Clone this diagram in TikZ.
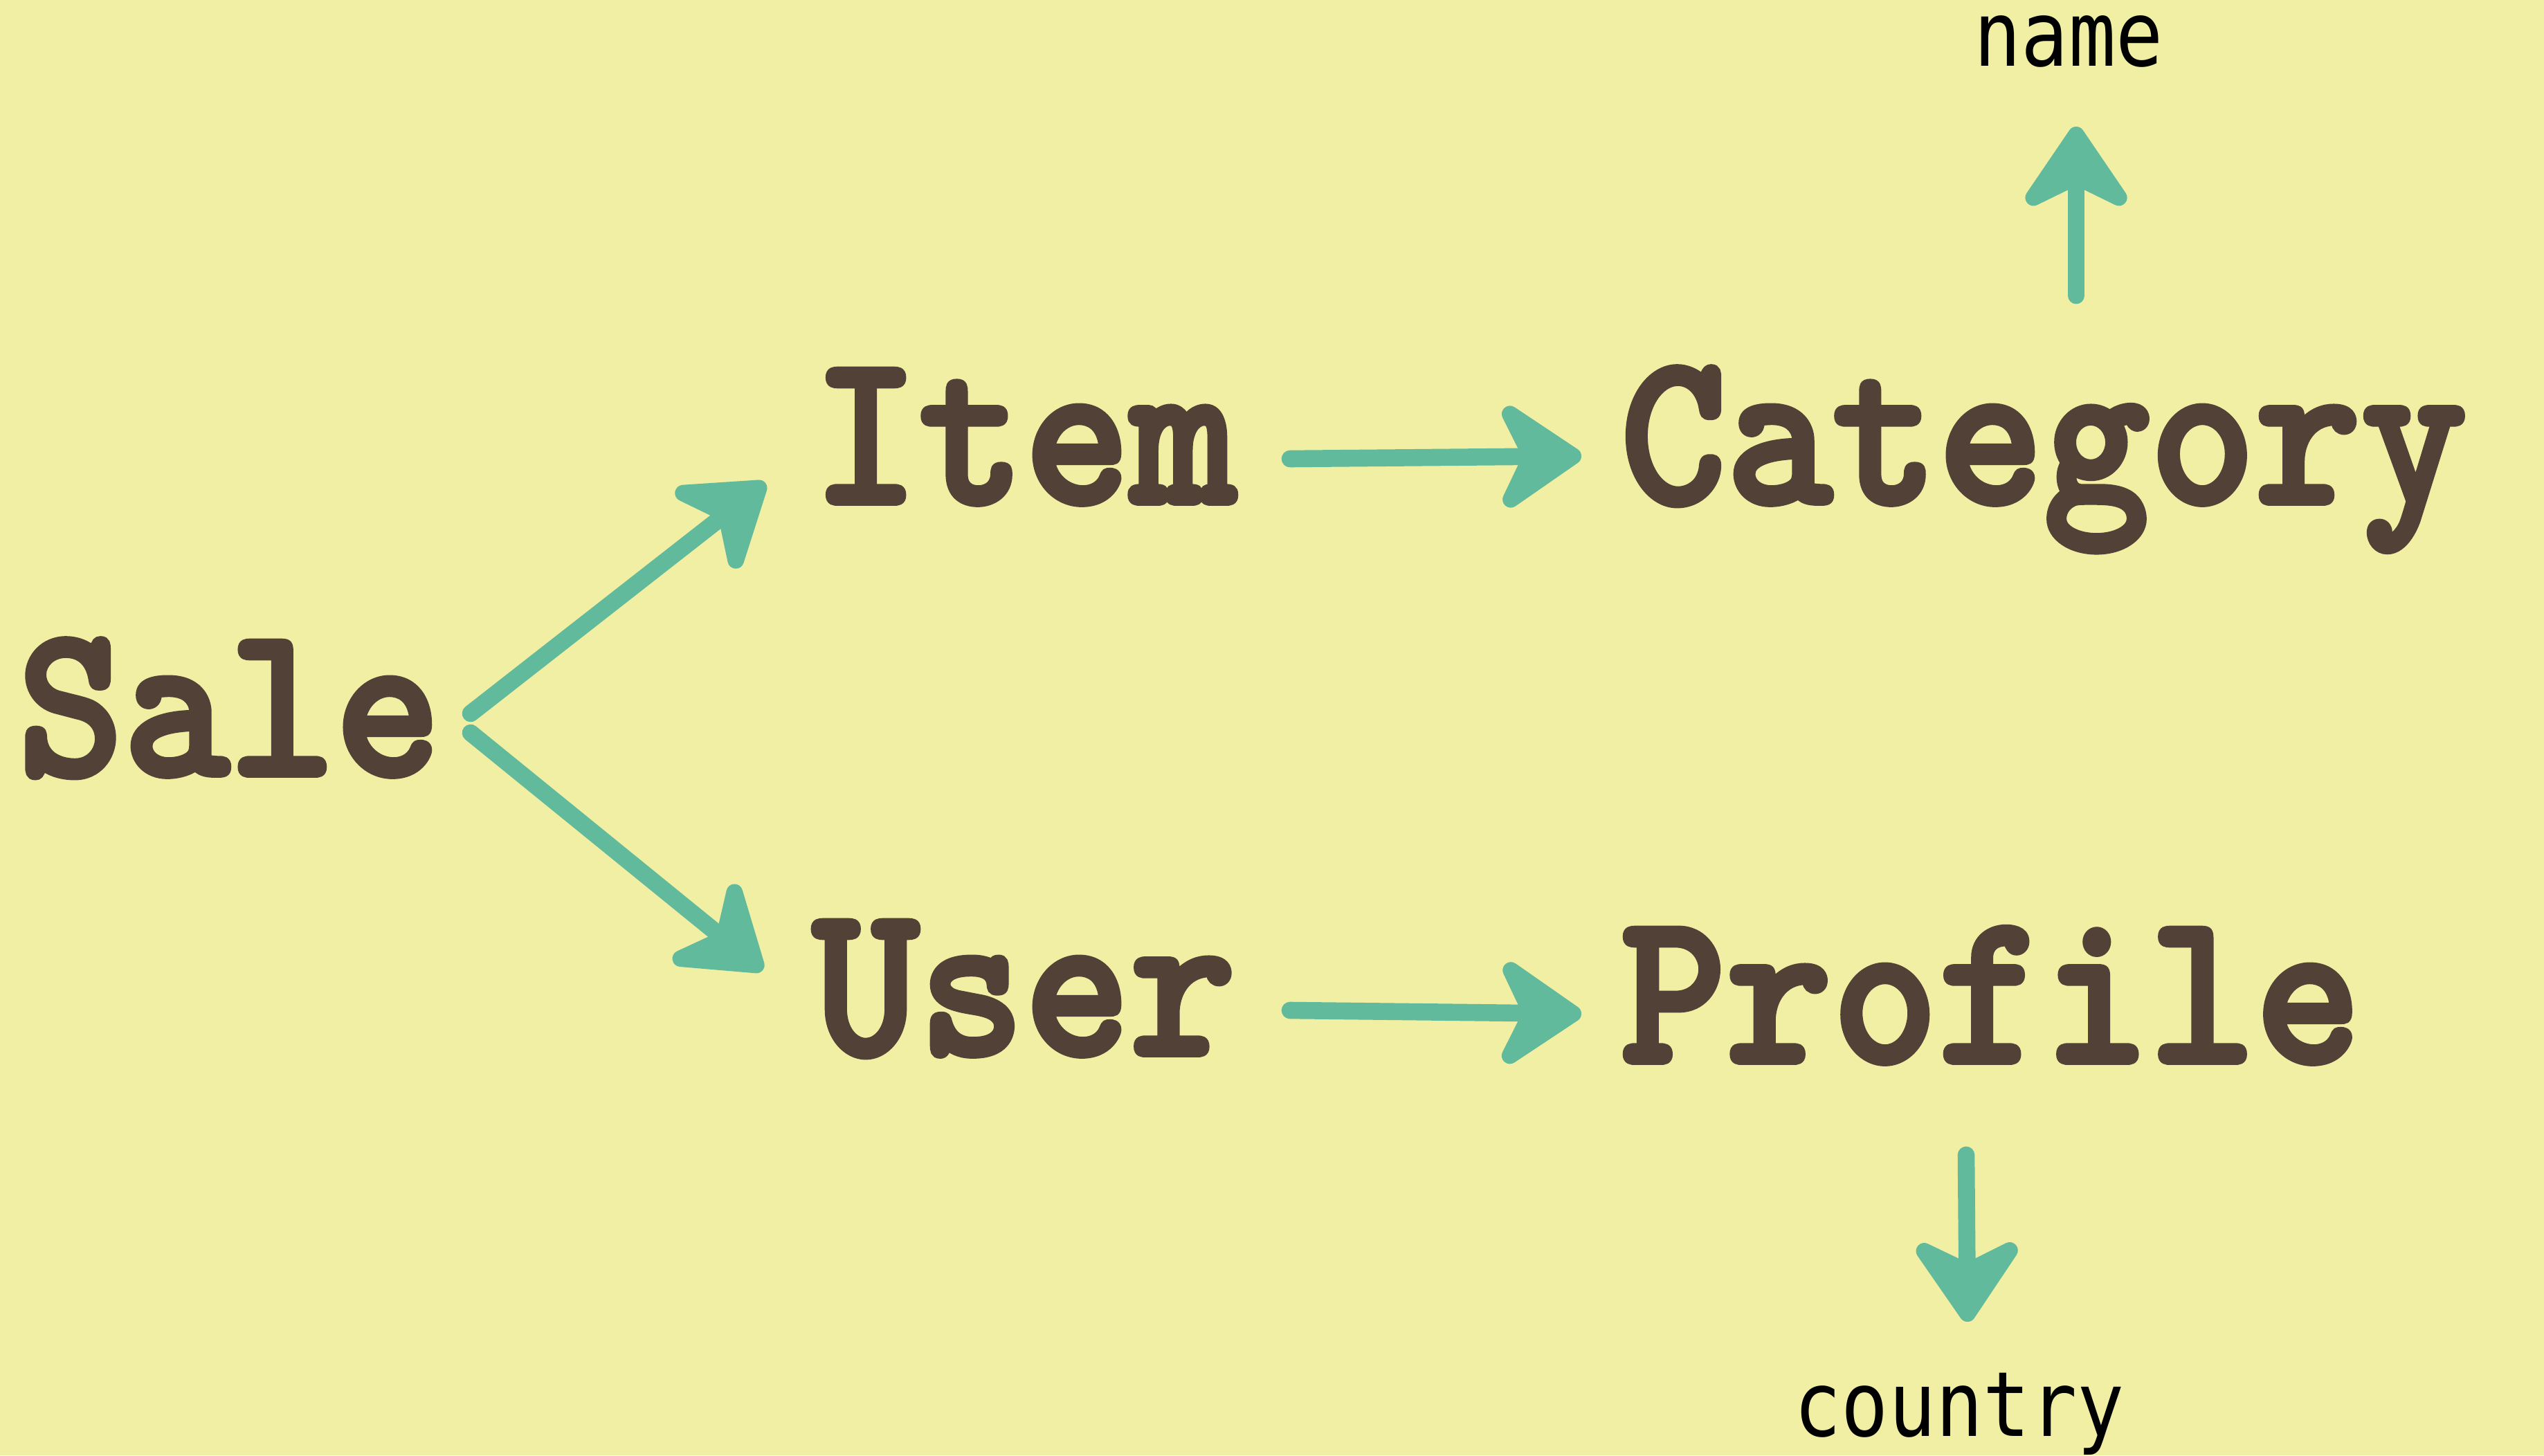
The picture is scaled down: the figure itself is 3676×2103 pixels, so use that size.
\documentclass[tikz,border=0pt]{standalone}
\usepackage{fontspec}
\usetikzlibrary{arrows.meta,calc}
\newfontfamily\typew{lmmonolt10-bold}[Extension=.otf,FakeStretch=0.92,FakeBold=2.5]
\newfontfamily\labelfont{DejaVu Sans Mono}[FakeStretch=0.87]
\definecolor{paper}{HTML}{F0EFA3}
\definecolor{ink}{HTML}{524136}
\definecolor{brush}{HTML}{62BA9C}
\tikzset{
  entity/.style={anchor=base west,inner sep=0pt,text=ink,font=\typew\fontsize{90}{90}\selectfont},
  field/.style={anchor=base west,inner sep=0pt,text=black,font=\labelfont\fontsize{37}{37}\selectfont},
  link/.style={draw=brush,line width=7pt,line cap=round,
    -{Stealth[length=40pt,width=54pt,inset=13pt,round]}},
}
\begin{document}
\begin{tikzpicture}[x=0.01cm,y=-0.01cm]
  \fill[paper] (0,0) rectangle (3676,2103);
  \useasboundingbox (0,0) rectangle (3676,2103);

  \node[entity] (sale)     at (25,1120)  {Sale};
  \node[entity] (item)     at (1174,727) {Item};
  \node[entity] (category) at (2341,727) {Category};
  \node[entity] (user)     at (1174,1524) {User};
  \node[entity] (profile)  at (2341,1535) {Profile};
  \node[field]  (name)     at (2852,96)  {name};
  \node[field]  (country)  at (2592,2075) {country};

  \draw[link] ([shift={(655,-89)}]sale.base west) -- ([shift={(-68,-29)}]item.base west);
  \draw[link] ([shift={(655,-61)}]sale.base west) -- ([shift={(-72,-122)}]user.base west);
  \draw[link] ([shift={(690,-64)}]item.base west) -- ([shift={(-56,-68)}]category.base west);
  \draw[link] ([shift={(690,-64)}]user.base west) -- ([shift={(-56,-70)}]profile.base west);
  \draw[link] ([shift={(659,-300)}]category.base west) -- ([shift={(148,87)}]name.base west);
  \draw[link] ([shift={(500,134)}]profile.base west) -- ([shift={(251,-165)}]country.base west);
\end{tikzpicture}
\end{document}
